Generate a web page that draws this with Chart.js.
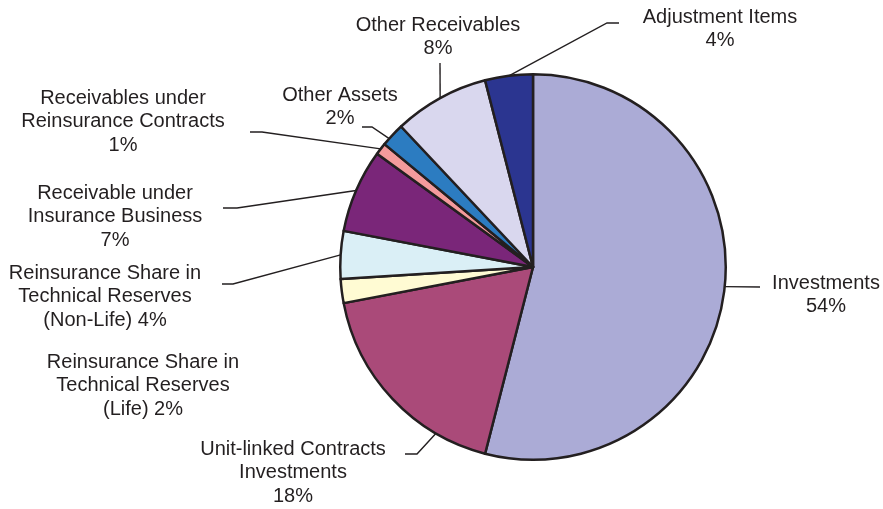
<!DOCTYPE html>
<html>
<head>
<meta charset="utf-8">
<title>Assets structure</title>
<script src="https://cdn.jsdelivr.net/npm/chart.js@4.4.1/dist/chart.umd.min.js"></script>
<style>
  html, body { margin: 0; padding: 0; background: #ffffff; }
  #wrap { position: relative; width: 883px; height: 509px; }
</style>
</head>
<body>
<div id="wrap"><canvas id="chart"></canvas></div>
<script>
// Asset categories, clockwise from 12 o'clock
const categories = [
  'Investments',
  'Unit-linked Contracts Investments',
  'Reinsurance Share in Technical Reserves (Life)',
  'Reinsurance Share in Technical Reserves (Non-Life)',
  'Receivable under Insurance Business',
  'Receivables under Reinsurance Contracts',
  'Other Assets',
  'Other Receivables',
  'Adjustment Items'
];

// Share of total assets, %
const shares = [54, 18, 2, 4, 7, 1, 2, 8, 4];

const sliceColors = [
  '#ABABD6', '#AA4A79', '#FFFBD3', '#DAEFF6', '#7A2679',
  '#F49B9C', '#2C7CC1', '#D9D7EE', '#2B3590'
];

// Label placement: text block centre and leader path, as offsets from the pie centre (px);
// `at` is where along the slice's arc the leader starts (0 = start, 1 = end).
const labelLayout = [
  { lines: ['Investments'], inline: false, tx: 293, ty: 16, at: 0.493, path: [[227, 20]] },
  { lines: ['Unit-linked Contracts', 'Investments'], inline: false, tx: -240, ty: 182, at: 0.245, path: [[-116, 187], [-128, 187]] },
  { lines: ['Reinsurance Share in', 'Technical Reserves', '(Life)'], inline: true, tx: -390, ty: 95, at: 0.5, path: null },
  { lines: ['Reinsurance Share in', 'Technical Reserves', '(Non-Life)'], inline: true, tx: -428, ty: 6, at: 0.5, path: [[-300, 17], [-311, 17]] },
  { lines: ['Receivable under', 'Insurance Business'], inline: false, tx: -418, ty: -74, at: 0.5, path: [[-296, -59], [-310, -59]] },
  { lines: ['Receivables under', 'Reinsurance Contracts'], inline: false, tx: -410, ty: -169, at: 0.5, path: [[-271, -135], [-283, -135]] },
  { lines: ['Other Assets'], inline: false, tx: -193, ty: -172, at: 0.3, path: [[-161, -140], [-171, -140]] },
  { lines: ['Other Receivables'], inline: false, tx: -95, ty: -242, at: 0.5, path: [[-93, -204]] },
  { lines: ['Adjustment Items'], inline: false, tx: 187, ty: -250, at: 0.5, path: [[74, -244], [86, -244]] }
];

const INK = '#231F20';
const LINE_GAP = 23.5;

const outsideLabels = {
  id: 'outsideLabels',
  afterDatasetsDraw(chart) {
    const ctx = chart.ctx;
    const meta = chart.getDatasetMeta(0);
    const values = chart.data.datasets[0].data;
    ctx.save();
    ctx.font = '20px "Liberation Sans", Arial, sans-serif';
    ctx.fillStyle = INK;
    ctx.strokeStyle = INK;
    ctx.lineWidth = 1.4;
    ctx.textAlign = 'center';
    ctx.textBaseline = 'middle';
    meta.data.forEach((arc, i) => {
      const L = labelLayout[i];
      if (!L) return;
      const p = arc.getProps(['x', 'y', 'startAngle', 'endAngle', 'outerRadius'], true);
      const cx = p.x, cy = p.y;
      // leader line from the slice edge to the label
      if (L.path) {
        const a = p.startAngle + (p.endAngle - p.startAngle) * L.at;
        ctx.beginPath();
        ctx.moveTo(cx + p.outerRadius * Math.cos(a), cy + p.outerRadius * Math.sin(a));
        L.path.forEach(pt => ctx.lineTo(cx + pt[0], cy + pt[1]));
        ctx.stroke();
      }
      // label text, value taken from the data
      const pct = values[i] + '%';
      const lines = L.lines.slice();
      if (L.inline) lines[lines.length - 1] += ' ' + pct;
      else lines.push(pct);
      lines.forEach((t, k) => ctx.fillText(t, cx + L.tx, cy + L.ty + k * LINE_GAP));
    });
    ctx.restore();
  }
};

new Chart(document.getElementById('chart'), {
  type: 'pie',
  data: {
    labels: categories,
    datasets: [{
      data: shares,
      backgroundColor: sliceColors,
      borderColor: INK,
      borderWidth: 2.5,
      borderJoinStyle: 'round'
    }]
  },
  options: {
    responsive: true,
    maintainAspectRatio: false,
    animation: false,
    layout: { padding: { left: 339, right: 156, top: 73, bottom: 48 } },
    plugins: {
      legend: { display: false },
      tooltip: { enabled: false }
    }
  },
  plugins: [outsideLabels]
});
</script>
</body>
</html>
